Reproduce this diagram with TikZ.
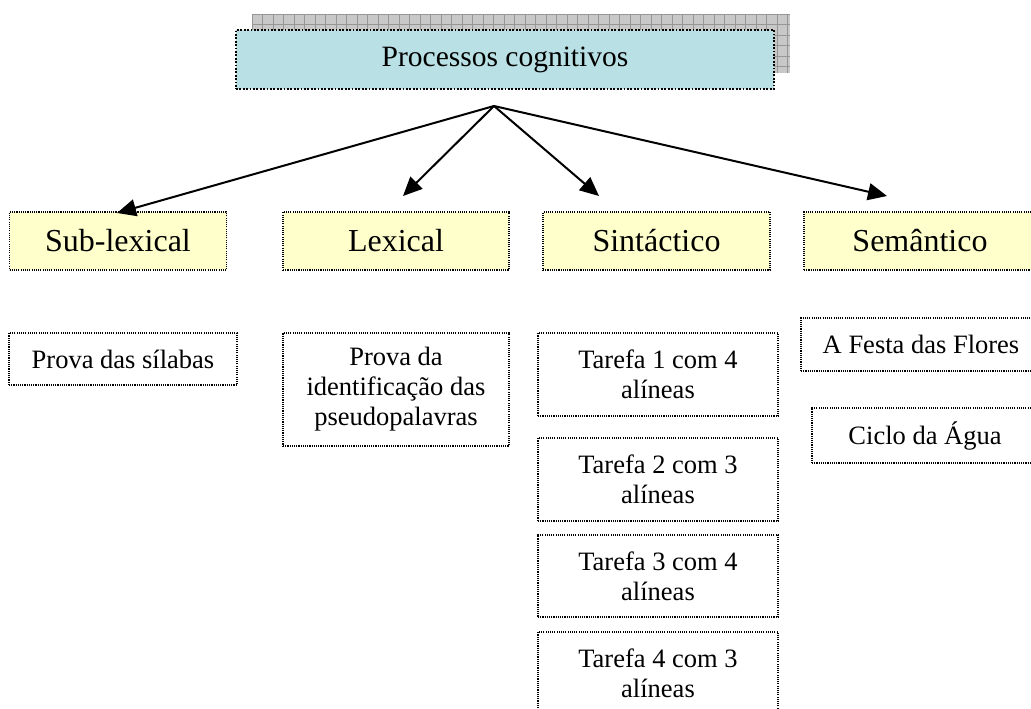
\documentclass[tikz,border=0pt]{standalone}
\usepackage{fontspec}
\setmainfont{Liberation Serif}
\usetikzlibrary{arrows.meta}
\definecolor{titlefill}{RGB}{185,224,228}
\definecolor{levelfill}{RGB}{255,255,204}
\definecolor{shadowfill}{RGB}{200,200,200}
\definecolor{shadowline}{RGB}{150,150,150}
\tikzset{
  titlebox/.style={draw=black, fill=titlefill, line width=2.2pt, dash pattern=on 1.8pt off 1.6pt,
    inner sep=0pt, font=\fontsize{29.5}{34}\selectfont},
  levelbox/.style={draw=black, fill=levelfill, line width=1.3pt, dash pattern=on 1.1pt off 1.1pt,
    inner sep=0pt, font=\fontsize{32}{36}\selectfont},
  taskbox/.style={draw=black, fill=white, line width=1.3pt, dash pattern=on 1.1pt off 1.1pt,
    inner sep=0pt, align=center, font=\fontsize{26.5}{30}\selectfont},
  conn/.style={line width=2pt, -{Triangle[length=19pt,width=17pt]}}
}
\begin{document}
\begin{tikzpicture}[x=1pt,y=-1pt]
\useasboundingbox (0,0) rectangle (1031,709);
\clip (0,0) rectangle (1031,709);
% shadow of title
\fill[shadowfill] (252,14) rectangle (790,73);
\foreach \gx in {252,262.5,...,790} \draw[shadowline,line width=0.8pt] (\gx,14) -- (\gx,73);
\foreach \gy in {14,24.5,...,73} \draw[shadowline,line width=0.8pt] (252,\gy) -- (790,\gy);
% title
\node[titlebox, minimum width=538pt, minimum height=59pt] (title) at (505,59.5) {Processos cognitivos};
% level 2
\node[levelbox, minimum width=217pt, minimum height=58pt] (sub) at (118,241) {Sub-lexical};
\node[levelbox, minimum width=226pt, minimum height=58pt] (lex) at (396,241) {Lexical};
\node[levelbox, minimum width=227pt, minimum height=58pt] (sin) at (656.5,241) {Sintáctico};
\node[levelbox, minimum width=232pt, minimum height=58pt] (sem) at (920,241) {Semântico};
% arrows
\coordinate (apex) at (494,106);
\coordinate (tsub) at (117,213);
\coordinate (tlex) at (403,196);
\coordinate (tsin) at (599,196);
\coordinate (tsem) at (887,196);
\draw[conn] (apex) -- (tsub);
\draw[conn] (apex) -- (tlex);
\draw[conn] (apex) -- (tsin);
\draw[conn] (apex) -- (tsem);
% level 3
\node[taskbox, minimum width=228pt, minimum height=52pt] (silabas) at (123,359) {Prova das sílabas};
\node[taskbox, minimum width=226pt, minimum height=113pt] (pseudo) at (396,389.5) {Prova da\\identificação das\\pseudopalavras};
\node[taskbox, minimum width=240pt, minimum height=83pt] (t1) at (658,374.5) {Tarefa 1 com 4\\alíneas};
\node[taskbox, minimum width=240pt, minimum height=83pt] (t2) at (658,479.5) {Tarefa 2 com 3\\alíneas};
\node[taskbox, minimum width=240pt, minimum height=82pt] (t3) at (658,576) {Tarefa 3 com 4\\alíneas};
\node[taskbox, minimum width=240pt, minimum height=83pt] (t4) at (658,673.5) {Tarefa 4 com 3\\alíneas};
\node[taskbox, minimum width=240pt, minimum height=53pt] (festa) at (921,344.5) {A Festa das Flores};
\node[taskbox, minimum width=226pt, minimum height=55pt] (ciclo) at (925,435.5) {Ciclo da Água};
\end{tikzpicture}
\end{document}
